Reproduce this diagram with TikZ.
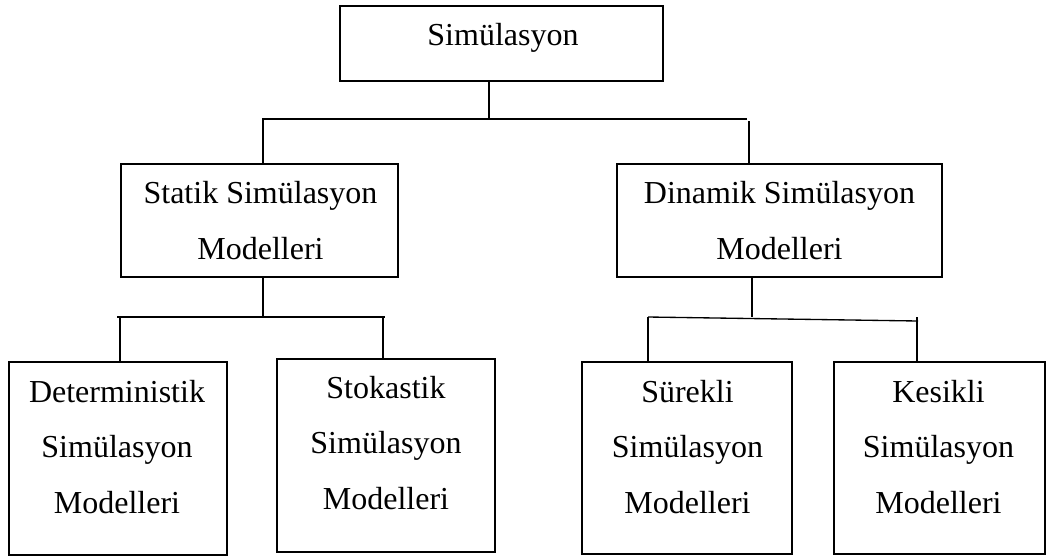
\documentclass[tikz,border=0pt]{standalone}
\usepackage{fontspec}
\setmainfont{Liberation Serif}
\begin{document}
\begin{tikzpicture}[x=0.75pt,y=-0.75pt,
  box/.style={draw, line width=1.2pt, rectangle, inner sep=0pt},
  lbl/.style={anchor=north, inner sep=0pt, align=center, yshift=20pt},
  midtxt/.style={lbl, font=\fontsize{24}{42}\selectfont},
  lowtxt/.style={lbl, font=\fontsize{24}{41.6}\selectfont},
  link/.style={line width=1pt}]
\fill[white] (0,0) rectangle (1047,558);
\useasboundingbox (0,0) rectangle (1047,558);

% boxes
\node[box, minimum width=242.25pt, minimum height=56.25pt] (top) at (501.5,43.5) {};
\node[box, minimum width=207.75pt, minimum height=84.75pt] (ml) at (259.5,220.5) {};
\node[box, minimum width=243.75pt, minimum height=84.75pt] (mr) at (779.5,220.5) {};
\node[box, minimum width=163.5pt, minimum height=144.75pt] (b1) at (118,458.5) {};
\node[box, minimum width=163.5pt, minimum height=144.75pt] (b2) at (386,455.5) {};
\node[box, minimum width=157.5pt, minimum height=144pt] (b3) at (687,458) {};
\node[box, minimum width=158.25pt, minimum height=144pt] (b4) at (939.5,458) {};

% labels (placed at the baseline of their first line)
\node[midtxt] (t0) at (503,45) {\rule{0pt}{20pt}Simülasyon};
\node[midtxt] (t1) at (260.5,203) {\rule{0pt}{20pt}Statik Simülasyon\\Modelleri};
\node[midtxt] (t2) at (779.5,203) {\rule{0pt}{20pt}Dinamik Simülasyon\\Modelleri};
\node[lowtxt] (t3) at (117,402) {\rule{0pt}{20pt}Deterministik\\Simülasyon\\Modelleri};
\node[lowtxt] (t4) at (386,398) {\rule{0pt}{20pt}Stokastik\\Simülasyon\\Modelleri};
\node[lowtxt] (t5) at (687.5,402) {\rule{0pt}{20pt}Sürekli\\Simülasyon\\Modelleri};
\node[lowtxt] (t6) at (938.5,402) {\rule{0pt}{20pt}Kesikli\\Simülasyon\\Modelleri};

% junction points of the connector bars
\coordinate (j0) at (489,119);
\coordinate (j0l) at (262,119);
\coordinate (j0r) at (747,119);
\coordinate (d1) at (263,119);
\coordinate (d2) at (749,121);

\coordinate (j1) at (263,317);
\coordinate (j1l) at (117,317);
\coordinate (j1r) at (385,317);
\coordinate (d3) at (120,318);
\coordinate (d4) at (383,317);

\coordinate (j2) at (752,317);
\coordinate (j2l) at (648,317);
\coordinate (j2r) at (918,321);
\coordinate (d5) at (648,317);
\coordinate (d6) at (917,317);

% top level
\draw[link] (top.south -| j0) -- (j0);
\draw[link] (j0l) -- (j0r);
\draw[link] (d1) -- (d1 |- ml.north);
\draw[link] (d2) -- (d2 |- mr.north);

% static branch
\draw[link] (ml.south -| j1) -- (j1);
\draw[link] (j1l) -- (j1r);
\draw[link] (d3) -- (d3 |- b1.north);
\draw[link] (d4) -- (d4 |- b2.north);

% dynamic branch
\draw[link] (mr.south -| j2) -- (j2);
\draw[link] (j2l) -- (j2r);
\draw[link] (d5) -- (d5 |- b3.north);
\draw[link] (d6) -- (d6 |- b4.north);
\end{tikzpicture}
\end{document}
